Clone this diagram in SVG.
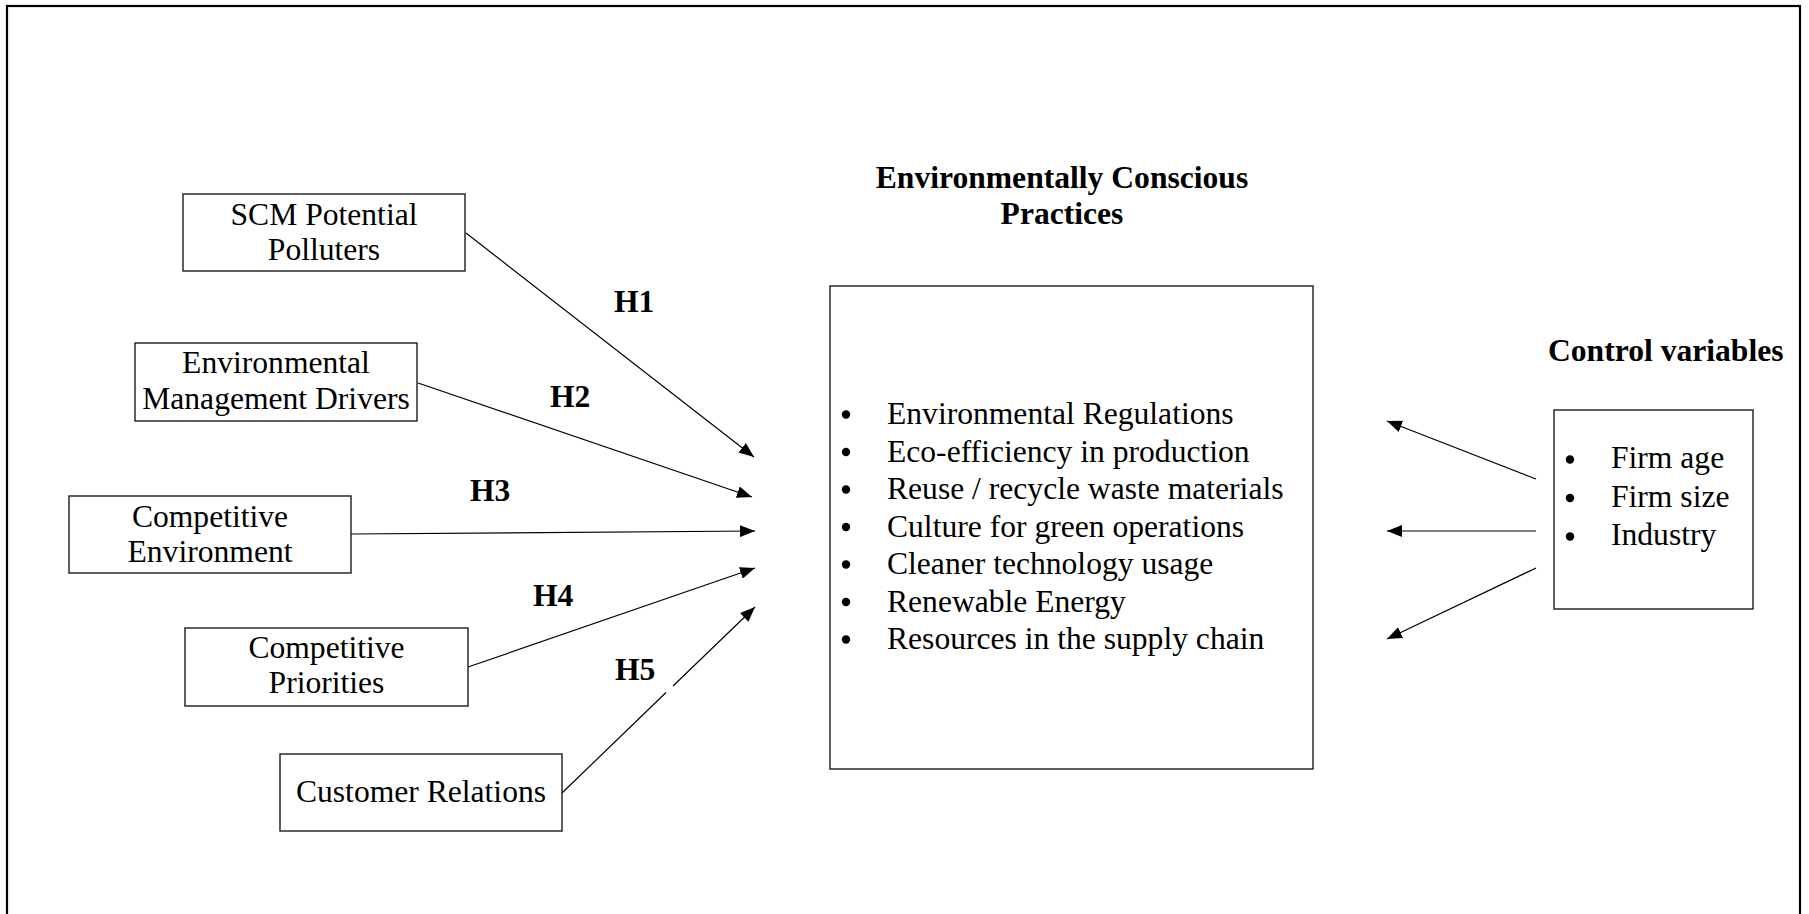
<svg xmlns="http://www.w3.org/2000/svg" width="1809" height="914" viewBox="0 0 1809 914">
  <style>
    .frame { fill: none; stroke: #000; stroke-width: 2.2; }
    .box { fill: #fff; stroke: #1a1a1a; stroke-width: 1.4; }
    .txt { font-family: "Liberation Serif", "Times New Roman", serif; font-size: 31.6px; fill: #000; }
    .mid { text-anchor: middle; }
    .bold { font-weight: bold; }
    .edge { fill: none; stroke: #000; stroke-width: 1.2; marker-end: url(#arrow); }
    .dot { fill: #000; }
  </style>
  <defs>
    <marker id="arrow" markerUnits="userSpaceOnUse" markerWidth="15" markerHeight="12" refX="15" refY="6" orient="auto">
      <path d="M0,0 L15,6 L0,12 z" fill="#000"/>
    </marker>
  </defs>

  <rect width="1809" height="914" fill="#fff"/>
  <!-- outer border, open at the bottom -->
  <rect class="frame" x="7" y="6" width="1793" height="950"/>

  <!-- hypothesis paths and control-variable links -->
  <g id="connectors">
    <path class="edge" d="M466,233 L754,457"/>
    <path class="edge" d="M418,383 L752,497"/>
    <path class="edge" d="M351,534 L755,531"/>
    <path class="edge" d="M468,667 L755,568"/>
    <path class="edge" d="M562,793 L666,692.5 M673,686 L755,607"/>
    <path class="edge" d="M1536,479 L1387,421"/>
    <path class="edge" d="M1536,531 L1387,531"/>
    <path class="edge" d="M1536,568 L1387,639"/>
  </g>

  <!-- hypothesis labels -->
  <g id="labels">
    <text class="txt bold" x="614" y="312">H1</text>
    <text class="txt bold" x="550" y="407">H2</text>
    <text class="txt bold" x="470" y="501">H3</text>
    <text class="txt bold" x="533" y="606">H4</text>
    <text class="txt bold" x="615" y="680">H5</text>
  </g>

  <g id="scm-polluters">
    <rect class="box" x="183" y="194" width="282" height="77"/>
    <text class="txt mid" x="324" y="225">SCM Potential</text>
    <text class="txt mid" x="324" y="260">Polluters</text>
  </g>

  <g id="env-drivers">
    <rect class="box" x="135" y="343" width="282" height="78"/>
    <text class="txt mid" x="276" y="373">Environmental</text>
    <text class="txt mid" x="276" y="409">Management Drivers</text>
  </g>

  <g id="competitive-environment">
    <rect class="box" x="69" y="496" width="282" height="77"/>
    <text class="txt mid" x="210" y="527">Competitive</text>
    <text class="txt mid" x="210" y="562">Environment</text>
  </g>

  <g id="competitive-priorities">
    <rect class="box" x="185" y="628" width="283" height="78"/>
    <text class="txt mid" x="326.5" y="658">Competitive</text>
    <text class="txt mid" x="326.5" y="693">Priorities</text>
  </g>

  <g id="customer-relations">
    <rect class="box" x="280" y="754" width="282" height="77"/>
    <text class="txt mid" x="421" y="802">Customer Relations</text>
  </g>

  <g id="practices">
    <text class="txt mid bold" x="1062" y="188">Environmentally Conscious</text>
    <text class="txt mid bold" x="1062" y="224">Practices</text>
    <rect class="box" x="830" y="286" width="483" height="483"/>
    <circle class="dot" cx="846" cy="414.5" r="4.2"/>
    <circle class="dot" cx="846" cy="452" r="4.2"/>
    <circle class="dot" cx="846" cy="489.5" r="4.2"/>
    <circle class="dot" cx="846" cy="527" r="4.2"/>
    <circle class="dot" cx="846" cy="564.5" r="4.2"/>
    <circle class="dot" cx="846" cy="602" r="4.2"/>
    <circle class="dot" cx="846" cy="639.5" r="4.2"/>
    <text class="txt" x="887" y="424">Environmental Regulations</text>
    <text class="txt" x="887" y="461.5">Eco-efficiency in production</text>
    <text class="txt" x="887" y="499">Reuse / recycle waste materials</text>
    <text class="txt" x="887" y="536.5">Culture for green operations</text>
    <text class="txt" x="887" y="574">Cleaner technology usage</text>
    <text class="txt" x="887" y="611.5">Renewable Energy</text>
    <text class="txt" x="887" y="649">Resources in the supply chain</text>
  </g>

  <g id="control-variables">
    <text class="txt bold" x="1548" y="361">Control variables</text>
    <rect class="box" x="1554" y="410" width="199" height="199"/>
    <circle class="dot" cx="1570" cy="459.5" r="4.2"/>
    <circle class="dot" cx="1570" cy="498" r="4.2"/>
    <circle class="dot" cx="1570" cy="536.5" r="4.2"/>
    <text class="txt" x="1611" y="468">Firm age</text>
    <text class="txt" x="1611" y="507">Firm size</text>
    <text class="txt" x="1611" y="545">Industry</text>
  </g>
</svg>
